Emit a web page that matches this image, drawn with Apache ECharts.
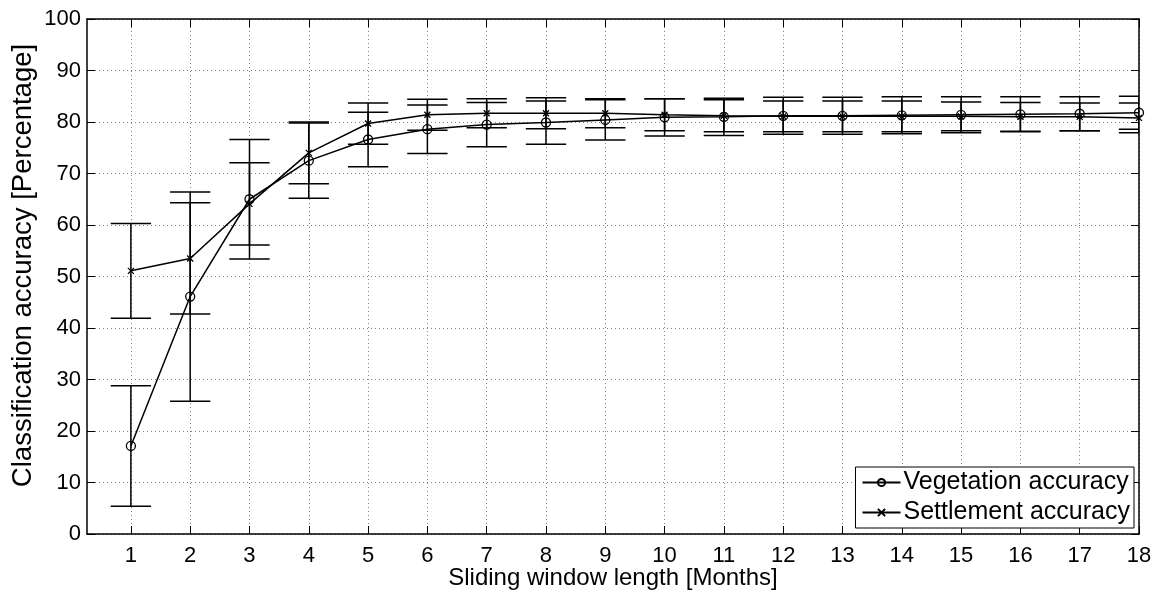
<!DOCTYPE html>
<html>
<head>
<meta charset="utf-8">
<script src="https://cdn.jsdelivr.net/npm/echarts@6/dist/echarts.min.js"></script>
<style>
  html, body { margin: 0; padding: 0; background: #fff; }
  #chart { width: 1160px; height: 592px; }
</style>
</head>
<body>
<div id="chart"></div>
<script>
// Sliding window length in months
const months = [1, 2, 3, 4, 5, 6, 7, 8, 9, 10, 11, 12, 13, 14, 15, 16, 17, 18];

// Mean classification accuracy (%) and error-bar half widths
const vegetationMean = [17.1, 46.1, 65.0, 72.5, 76.6, 78.6, 79.5, 79.9, 80.4, 80.9, 81.0, 81.2, 81.2, 81.3, 81.4, 81.5, 81.6, 81.8];
const vegetationErr  = [11.7, 20.3, 11.6, 7.3, 5.3, 4.7, 4.3, 4.2, 3.9, 3.6, 3.6, 3.6, 3.6, 3.6, 3.5, 3.4, 3.3, 3.2];
const settlementMean = [51.1, 53.5, 64.1, 74.0, 79.7, 81.4, 81.7, 81.7, 81.7, 81.4, 81.2, 81.1, 81.1, 81.1, 81.1, 81.0, 81.0, 80.8];
const settlementErr  = [9.2, 10.8, 8.0, 6.0, 4.0, 3.0, 2.8, 3.0, 2.8, 3.1, 3.1, 3.0, 3.0, 3.0, 2.8, 2.8, 2.7, 2.9];

const yTicks = [0, 10, 20, 30, 40, 50, 60, 70, 80, 90, 100];

const FONT = '"Liberation Sans", Arial, Helvetica, sans-serif';
const capHalf = 0.34; // half width of the error-bar caps, in x units

function errorData(mean, err) {
  return months.map((m, i) => [m, mean[i] - err[i], mean[i] + err[i]]);
}

function renderErrorBar(params, api) {
  const x = api.value(0), lo = api.value(1), hi = api.value(2);
  const top = api.coord([x, hi]);
  const bot = api.coord([x, lo]);
  const l = api.coord([x - capHalf, hi])[0];
  const r = api.coord([x + capHalf, hi])[0];
  const style = { stroke: '#000', lineWidth: 1.5 };
  return {
    type: 'group',
    children: [
      { type: 'line', shape: { x1: top[0], y1: top[1], x2: bot[0], y2: bot[1] }, style },
      { type: 'line', shape: { x1: l, y1: top[1], x2: r, y2: top[1] }, style },
      { type: 'line', shape: { x1: l, y1: bot[1], x2: r, y2: bot[1] }, style }
    ]
  };
}

const gridLine = { show: true, lineStyle: { color: '#808080', width: 1, type: [1, 3] } };
const axisLine = { show: true, onZero: false, lineStyle: { color: '#000', width: 1.5 } };
const tickIn = { show: true, inside: true, length: 8, lineStyle: { color: '#000', width: 1 } };
const labelStyle = { color: '#000', fontFamily: FONT, fontSize: 22 };

const xMin = 0.26, xMax = 18;

const chart = echarts.init(document.getElementById('chart'), null, { renderer: 'canvas' });
chart.setOption({
  animation: false,
  backgroundColor: '#fff',
  grid: { left: 87, right: 21, top: 19, bottom: 58, containLabel: false, outerBoundsMode: 'none' },
  xAxis: [
    {
      type: 'value', min: xMin, max: xMax, position: 'bottom',
      axisLine, axisTick: Object.assign({ customValues: months }, tickIn),
      axisLabel: Object.assign({ customValues: months, margin: 11 }, labelStyle),
      splitLine: gridLine,
      name: 'Sliding window length [Months]', nameLocation: 'middle', nameGap: 32,
      nameMoveOverlap: false,
      nameTextStyle: { color: '#000', fontFamily: FONT, fontSize: 24 }
    },
    {
      type: 'value', min: xMin, max: xMax, position: 'top',
      axisLine, axisTick: Object.assign({ customValues: months }, tickIn),
      axisLabel: { show: false }, splitLine: { show: false }
    }
  ],
  yAxis: [
    {
      type: 'value', min: 0, max: 100, interval: 10, position: 'left',
      axisLine, axisTick: tickIn,
      axisLabel: Object.assign({ margin: 6, customValues: yTicks }, labelStyle),
      splitLine: gridLine,
      name: 'Classification accuracy [Percentage]', nameLocation: 'middle', nameGap: 50,
      nameMoveOverlap: false,
      nameTextStyle: { color: '#000', fontFamily: FONT, fontSize: 27.5, padding: [0, 0, 0, 22] }
    },
    {
      type: 'value', min: 0, max: 100, interval: 10, position: 'right',
      axisLine, axisTick: tickIn,
      axisLabel: { show: false }, splitLine: { show: false }
    }
  ],
  legend: {
    data: ['Vegetation accuracy', 'Settlement accuracy'],
    orient: 'vertical',
    right: 26, bottom: 64,
    backgroundColor: '#fff',
    borderColor: '#000', borderWidth: 1,
    padding: [3, 4, 3, 6],
    itemGap: 5, itemWidth: 38, itemHeight: 9,
    textStyle: { color: '#000', fontFamily: FONT, fontSize: 25, padding: [0, 0, 0, -2] }
  },
  series: [
    {
      name: 'vegetationError', type: 'custom', renderItem: renderErrorBar,
      clip: true, encode: { x: 0, y: [1, 2] },
      data: errorData(vegetationMean, vegetationErr), z: 2
    },
    {
      name: 'settlementError', type: 'custom', renderItem: renderErrorBar,
      clip: true, encode: { x: 0, y: [1, 2] },
      data: errorData(settlementMean, settlementErr), z: 2
    },
    {
      name: 'Vegetation accuracy', type: 'line',
      data: months.map((m, i) => [m, vegetationMean[i]]),
      symbol: 'circle', symbolSize: 9, showAllSymbol: true,
      lineStyle: { color: '#000', width: 1.5 },
      itemStyle: { color: 'none', borderColor: '#000', borderWidth: 1.3 },
      emphasis: { disabled: true }, z: 3
    },
    {
      name: 'Settlement accuracy', type: 'line',
      data: months.map((m, i) => [m, settlementMean[i]]),
      symbol: 'path://M0,0L10,10M10,0L0,10', symbolSize: 6, showAllSymbol: true,
      lineStyle: { color: '#000', width: 1.5 },
      itemStyle: { color: 'none', borderColor: '#000', borderWidth: 1.3 },
      emphasis: { disabled: true }, z: 3
    }
  ]
});
</script>
</body>
</html>
